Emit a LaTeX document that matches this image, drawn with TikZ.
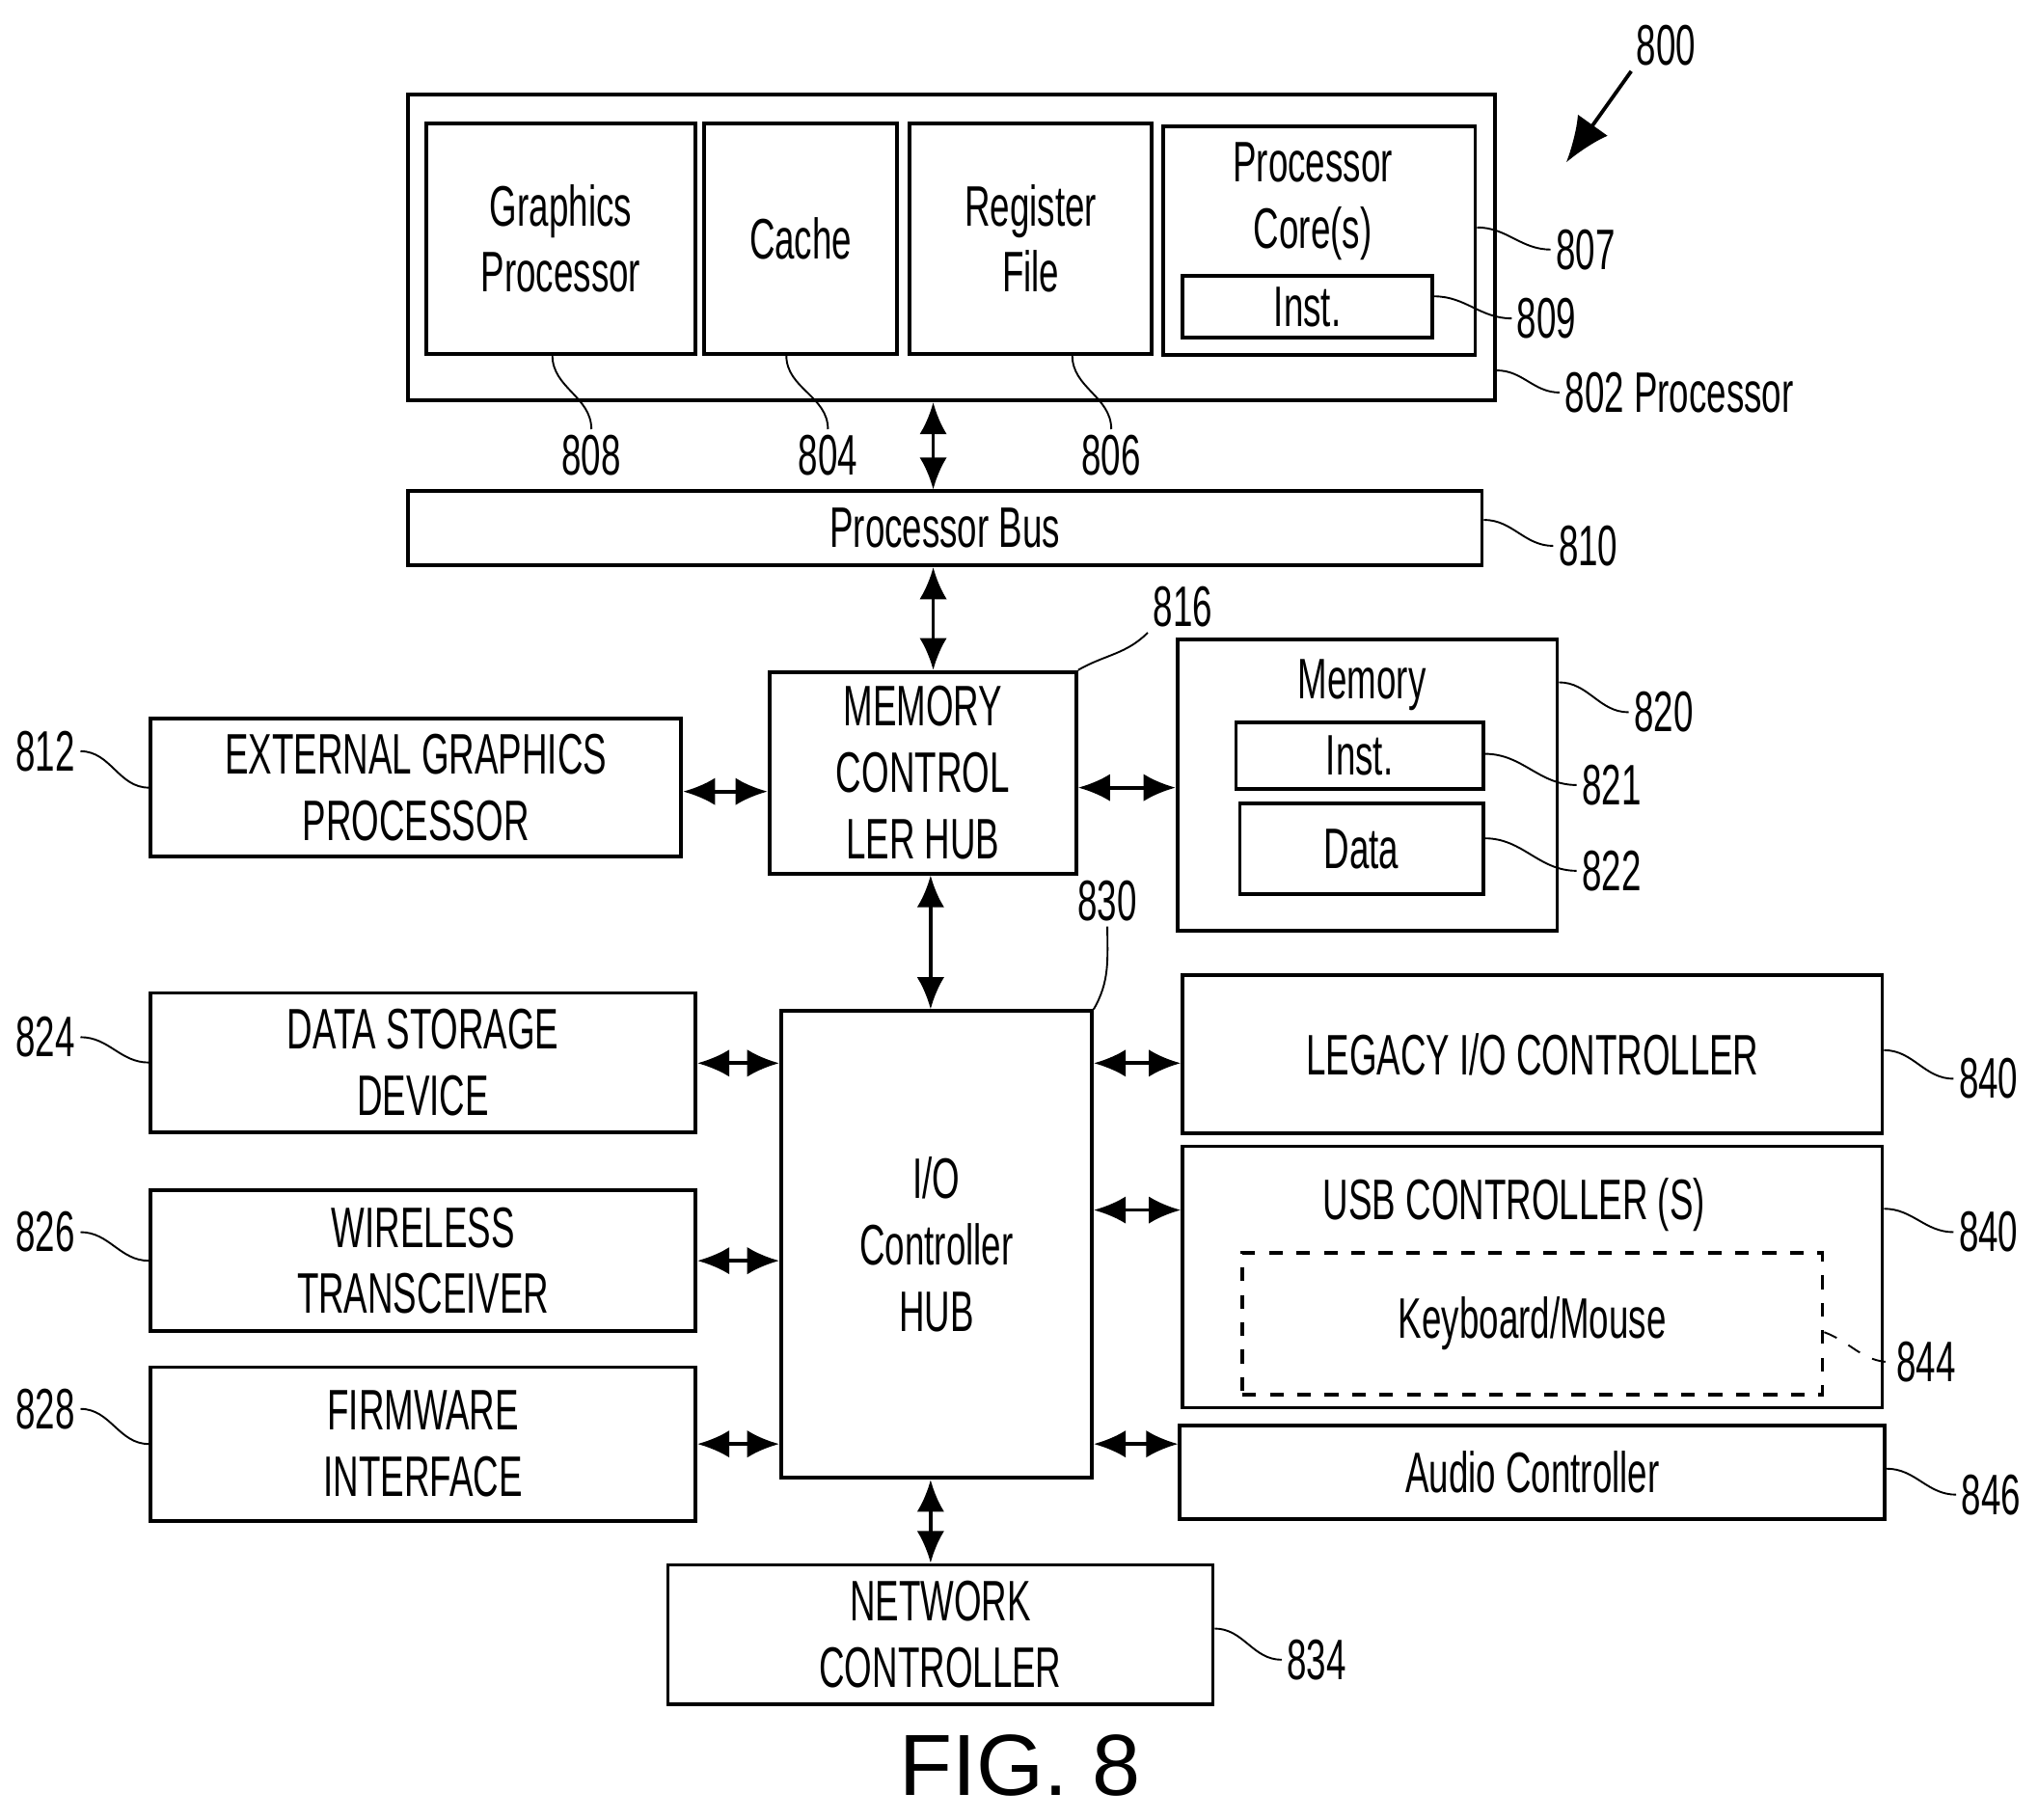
\documentclass[tikz,border=0pt]{standalone}
\usepackage{fontspec}
\setmainfont{Liberation Sans}[FakeStretch=0.62]
\newfontfamily\figfont{Liberation Sans}
\usetikzlibrary{arrows.meta}
\tikzset{
  box/.style={draw, thick, align=center, inner sep=0pt},
  dbl/.style={thick, {Latex[length=7pt,width=6pt]}-{Latex[length=7pt,width=6pt]}},
  lead/.style={thin},
  num/.style={inner sep=1pt, font=\fontsize{12.5}{14}\selectfont},
}
\begin{document}
\begin{tikzpicture}[x=0.01cm, y=-0.01cm, font=\fontsize{12.5}{14.5}\selectfont]
    \useasboundingbox (0,0) rectangle (1568,1400);

    % processor
    \node[box, minimum width=8.36cm, minimum height=2.35cm] (proc) at (732,190.5) {};
    \node[box, minimum width=2.07cm, minimum height=1.77cm] (gfx) at (431.5,183.5) {Graphics\\Processor};
    \node[box, minimum width=1.48cm, minimum height=1.77cm] (cache) at (616,183.5) {Cache};
    \node[box, minimum width=1.86cm, minimum height=1.77cm] (reg) at (793,183.5) {Register\\File};
    \node[box, minimum width=2.40cm, minimum height=1.76cm] (core) at (1015,185) {};
    \node[align=center] (coret) at (1010,155) {Processor\\Core(s)};
    \node[box, minimum width=1.92cm, minimum height=0.48cm] (cinst) at (1006,236) {Inst.};
    \node[box, minimum width=8.26cm, minimum height=0.57cm] (bus) at (727,406.5) {Processor Bus};

    % memory side
    \node[box, minimum width=2.36cm, minimum height=1.55cm] (mch) at (710,594.5) {MEMORY\\CONTROL\\LER HUB};
    \node[box, minimum width=2.92cm, minimum height=2.24cm] (mem) at (1052,604) {};
    \node (memt) at (1048,527) {Memory};
    \node[box, minimum width=1.90cm, minimum height=0.51cm] (minst) at (1046,581.5) {Inst.};
    \node[box, minimum width=1.87cm, minimum height=0.70cm] (mdata) at (1047.5,653) {Data};
    \node[box, minimum width=4.08cm, minimum height=1.06cm] (egfx) at (320,606) {EXTERNAL GRAPHICS\\PROCESSOR};

    % io side
    \node[box, minimum width=2.39cm, minimum height=3.59cm] (ioh) at (720.5,957.5) {I/O\\Controller\\HUB};
    \node[box, minimum width=4.19cm, minimum height=1.07cm] (dsd) at (325.5,817.5) {DATA STORAGE\\DEVICE};
    \node[box, minimum width=4.19cm, minimum height=1.08cm] (wtr) at (325.5,970) {WIRELESS\\TRANSCEIVER};
    \node[box, minimum width=4.19cm, minimum height=1.18cm] (fwi) at (325.5,1111) {FIRMWARE\\INTERFACE};
    \node[box, minimum width=5.38cm, minimum height=1.22cm] (lio) at (1179,811) {LEGACY I/O CONTROLLER};
    \node[box, minimum width=5.38cm, minimum height=2.01cm] (usb) at (1179,982.5) {};
    \node (usbt) at (1165,927) {USB CONTROLLER (S)};
    \node[box, dashed, minimum width=4.46cm, minimum height=1.09cm] (kbd) at (1179,1018.5) {Keyboard/Mouse};
    \node[box, minimum width=5.42cm, minimum height=0.72cm] (aud) at (1179,1133) {Audio Controller};
    \node[box, minimum width=4.19cm, minimum height=1.07cm] (net) at (723.5,1257.5) {NETWORK\\CONTROLLER};

    % buses
    \draw[dbl] (proc.south -| 718,0) -- (bus.north -| 718,0);
    \draw[dbl] (bus.south -| 718,0) -- (mch.north -| 718,0);
    \draw[dbl] (mch.south -| 716,0) -- (ioh.north -| 716,0);
    \draw[dbl] (ioh.south -| 716,0) -- (net.north -| 716,0);
    \draw[dbl] (egfx.east |- 0,609) -- (mch.west |- 0,609);
    \draw[dbl] (mch.east |- 0,606) -- (mem.west |- 0,606);
    \draw[dbl] (dsd.east |- 0,818) -- (ioh.west |- 0,818);
    \draw[dbl] (wtr.east |- 0,970) -- (ioh.west |- 0,970);
    \draw[dbl] (fwi.east |- 0,1111) -- (ioh.west |- 0,1111);
    \draw[dbl] (ioh.east |- 0,818) -- (lio.west |- 0,818);
    \draw[dbl] (ioh.east |- 0,931) -- (usb.west |- 0,931);
    \draw[dbl] (ioh.east |- 0,1111) -- (aud.west |- 0,1111);

    % reference numbers
    \node[num] (n800) at (1282,35) {800};
    \node[num] (n807) at (1220,192) {807};
    \node[num] (n809) at (1190,245) {809};
    \node[num] (n802) at (1292,302) {802 Processor};
    \node[num] (n808) at (455,350) {808};
    \node[num] (n804) at (637,350) {804};
    \node[num] (n806) at (855,350) {806};
    \node[num] (n810) at (1222,420) {810};
    \node[num] (n816) at (910,467) {816};
    \node[num] (n820) at (1280,548) {820};
    \node[num] (n821) at (1240,604) {821};
    \node[num] (n822) at (1240,670) {822};
    \node[num] (n812) at (35,578) {812};
    \node[num] (n830) at (852,693) {830};
    \node[num] (n824) at (35,798) {824};
    \node[num] (n826) at (35,948) {826};
    \node[num] (n828) at (35,1084) {828};
    \node[num] (n840a) at (1530,830) {840};
    \node[num] (n840b) at (1530,948) {840};
    \node[num] (n844) at (1482,1048) {844};
    \node[num] (n846) at (1532,1150) {846};
    \node[num] (n834) at (1013,1277) {834};
    \coordinate (a800) at (1205,125);
    \draw[thick, -{Latex[length=10pt,width=8pt]}] (n800.south west) -- (a800);

    \draw[lead] (core.east |- 0,175) to[out=0,in=180] (n807.west);
    \draw[lead] (cinst.east |- 0,228) to[out=0,in=180] (n809.west);
    \draw[lead] (proc.east |- 0,285) to[out=0,in=180] (n802.west);
    \draw[lead] (gfx.south -| 425,0) to[out=-90,in=90] (n808.north);
    \draw[lead] (cache.south -| 605,0) to[out=-90,in=90] (n804.north);
    \draw[lead] (reg.south -| 825,0) to[out=-90,in=90] (n806.north);
    \draw[lead] (bus.east |- 0,400) to[out=0,in=180] (n810.west);
    \draw[lead] (mch.north east) to[out=30,in=-135] (n816.south west);
    \draw[lead] (mem.east |- 0,525) to[out=0,in=180] (n820.west);
    \draw[lead] (minst.east |- 0,580) to[out=0,in=180] (n821.west);
    \draw[lead] (mdata.east |- 0,645) to[out=0,in=180] (n822.west);
    \draw[lead] (n812.east) to[out=0,in=180] (egfx.west);
    \draw[lead] (ioh.north east) to[out=60,in=-90] (n830.south);
    \draw[lead] (n824.east) to[out=0,in=180] (dsd.west);
    \draw[lead] (n826.east) to[out=0,in=180] (wtr.west);
    \draw[lead] (n828.east) to[out=0,in=180] (fwi.west);
    \draw[lead] (lio.east |- 0,808) to[out=0,in=180] (n840a.west);
    \draw[lead] (usb.east |- 0,930) to[out=0,in=180] (n840b.west);
    \draw[lead, dashed] (kbd.east |- 0,1025) to[out=-20,in=180] (n844.west);
    \draw[lead] (aud.east |- 0,1130) to[out=0,in=180] (n846.west);
    \draw[lead] (net.east |- 0,1253) to[out=0,in=180] (n834.west);

    \node[font=\figfont\fontsize{19}{21}\selectfont] (fig) at (785,1358) {FIG. 8};
\end{tikzpicture}
\end{document}
